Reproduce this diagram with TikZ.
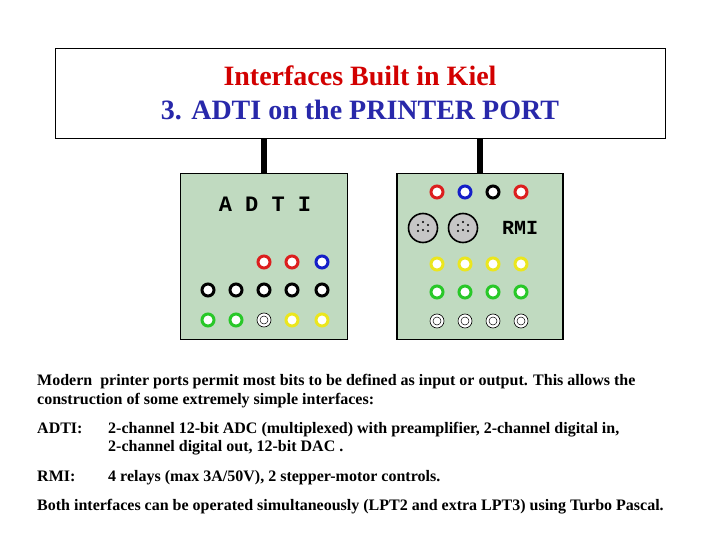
\documentclass[tikz,border=0pt]{standalone}
\usepackage{fontspec}
\setmainfont{Liberation Serif}
\newfontfamily\monof{Liberation Mono}
\begin{document}
\begin{tikzpicture}[x=1pt,y=-1pt,
  panel/.style={draw=black,line width=1.6pt,fill=panelg},
  jack/.style args={#1}{draw=#1,line width=3pt,fill=white,circle,minimum size=12pt,inner sep=0pt},
  wjack/.style={draw=black,line width=0.6pt,fill=white,circle,minimum size=14pt,inner sep=0pt,
     append after command={node[draw=black,line width=0.5pt,circle,minimum size=8pt,inner sep=0pt] at (\tikzlastnode.center){}}},
  din/.style={draw=black,line width=1.6pt,fill=gray!45,circle,minimum size=29pt,inner sep=0pt},
  txt/.style={anchor=base west,inner sep=0pt,font=\fontsize{16}{17}\selectfont\bfseries}]
\definecolor{panelg}{RGB}{192,218,192}
\definecolor{jred}{RGB}{220,30,30}
\definecolor{jblue}{RGB}{20,30,200}
\definecolor{jgreen}{RGB}{40,200,40}
\definecolor{jyellow}{RGB}{235,230,30}
\definecolor{tred}{RGB}{210,0,0}
\definecolor{tblue}{RGB}{40,40,170}
\useasboundingbox (0,0) rectangle (720,540);
\node[draw=black,line width=0.6pt,minimum width=610pt,minimum height=90pt,inner sep=0pt] (title) at (360,93) {};
\node[text=tred,font=\fontsize{28}{28}\selectfont\bfseries] (t1) at (360,76) {Interfaces Built in Kiel};
\node[text=tblue,font=\fontsize{28}{28}\selectfont\bfseries] (t2) at (360,110) {3. ADTI on the PRINTER PORT};
\node[panel,minimum width=167pt,minimum height=166pt,inner sep=0pt] (adti) at (264,256.5) {};
\node[panel,minimum width=166pt,minimum height=166pt,inner sep=0pt] (rmi) at (480,256.5) {};
\draw[line width=6pt] (adti.north) -- (264,138);
\draw[line width=6pt] (rmi.north) -- (480,138);
\node[font=\monof\bfseries\fontsize{22}{22}\selectfont] (adtil) at (265,204) {A D T I};
\node[font=\monof\bfseries\fontsize{20}{20}\selectfont] (rmil) at (520,228) {RMI};
% ADTI jacks
\node[jack=jred] (a1) at (264,262) {};
\node[jack=jred] (a2) at (292,262) {};
\node[jack=jblue] (a3) at (322,262) {};
\foreach \x [count=\i] in {208,236,264,292,322} \node[jack=black] (b\i) at (\x,290) {};
\node[jack=jgreen] (c1) at (208,320) {};
\node[jack=jgreen] (c2) at (236,320) {};
\node[wjack] (c3) at (264,320) {};
\node[jack=jyellow] (c4) at (292,320) {};
\node[jack=jyellow] (c5) at (322,320) {};
% RMI jacks
\node[jack=jred] (r1) at (437,192) {};
\node[jack=jblue] (r2) at (465,192) {};
\node[jack=black] (r3) at (493,192) {};
\node[jack=jred] (r4) at (521,192) {};
\foreach \x [count=\i] in {437,465,493,521} {
  \node[jack=jyellow] (y\i) at (\x,264) {};
  \node[jack=jgreen] (g\i) at (\x,292) {};
  \node[wjack] (w\i) at (\x,321) {};
}
\foreach \x [count=\i] in {423,463} {
  \node[din] (d\i) at (\x,228) {};
  \foreach \dx/\dy in {-5/-3,0/-6,5/-3,-5/3,5/3,0/2} \fill (\x+\dx,228+\dy) circle (1.1pt);
}
% text
\node[txt] (p1) at (37,385) {Modern\ \ printer ports permit most bits to be defined as input or output. This allows the};
\node[txt] (p2) at (37,404) {construction of some extremely simple interfaces:};
\node[txt] (l1) at (37,433) {ADTI:};
\node[txt] (l1a) at (108,433) {2-channel 12-bit ADC (multiplexed) with preamplifier, 2-channel digital in,};
\node[txt] (l1b) at (108,451) {2-channel digital out, 12-bit DAC .};
\node[txt] (l2) at (37,481) {RMI:};
\node[txt] (l2a) at (108,481) {4 relays (max 3A/50V), 2 stepper-motor controls.};
\node[txt] (l3) at (37,510) {Both interfaces can be operated simultaneously (LPT2 and extra LPT3) using Turbo Pascal.};
\end{tikzpicture}
\end{document}
